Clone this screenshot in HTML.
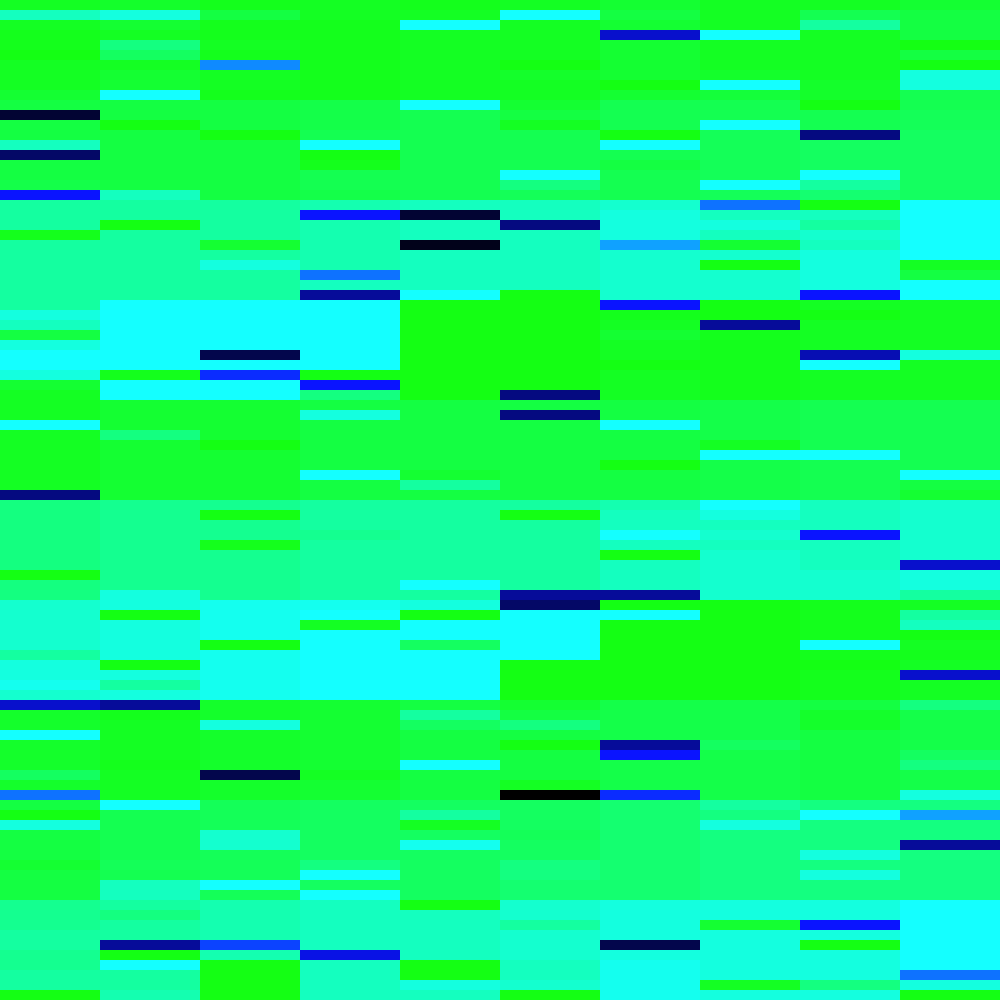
<!DOCTYPE html>
<html><head><meta charset="utf-8"><style>html,body{margin:0;padding:0;background:#fff;}svg{display:block;}</style></head>
<body>
<svg id="chart" width="1000" height="1000" xmlns="http://www.w3.org/2000/svg"></svg>
<script>
const columns = [0,1,2,3,4,5,6,7,8,9];
const values = [
[.1,.15,.05,.1,.05,.1,.2,.1,.1,.2],
[.8,.9,.3,.1,.1,1,.3,.1,.4,.3],
[.1,.2,.05,.05,1,.1,.2,.1,.7,.3],
[.05,.1,.05,.05,.1,.1,1.6,1,.1,.3],
[.05,.6,.1,.05,.1,.1,.2,.1,.1,0],
[0,.5,.05,.05,.1,.1,.2,.1,.1,.3],
[.1,.1,1.25,.05,.1,0,.2,.1,.1,0],
[.1,.2,.1,.05,.1,.15,.2,.15,.1,.9],
[.1,.2,.1,.05,.1,.1,0,1,.15,.9],
[.2,1,.05,.05,.1,.1,.2,.25,.15,.4],
[.3,.3,.3,.35,1,.2,.4,.4,0,.4],
[1.9,.3,.3,.35,.4,.3,.4,.4,.4,.45],
[.3,0,.3,.35,.4,.1,.4,1,.4,.45],
[.3,.3,0,.4,.4,.4,0,.45,1.75,.5],
[.8,.3,.3,1,.4,.4,1,.45,.5,.5],
[1.8,.3,.3,0,.4,.4,.4,.45,.5,.5],
[.3,.3,.3,.05,.4,.4,.3,.45,.5,.5],
[.3,.3,.3,.4,.4,1,.4,.45,1,.5],
[.35,.3,.3,.4,.4,.6,.4,1,.7,.5],
[1.5,.8,.3,.35,.4,.45,.4,.45,.55,.5],
[.7,.7,.7,.75,.8,.8,.85,1.3,0,1],
[.7,.7,.7,1.5,1.9,.8,.9,.8,.8,1],
[.7,0,.7,.75,.8,1.75,.9,.9,.7,1],
[0.05,.7,.7,.75,.8,.8,.9,.8,.85,1],
[.7,.7,.2,.75,1.95,.8,1.2,.2,.8,1],
[.7,.7,.7,.75,.8,.8,.85,.85,.9,1],
[.7,.7,.9,.75,.8,.8,.85,0,.9,.1],
[.7,.7,.7,1.3,.8,.8,.85,.85,.9,.3],
[.7,.7,.7,.8,.8,.8,.85,.85,.9,1],
[.7,.7,.7,1.7,1,0,.85,.85,1.5,1],
[.7,1,1,1,0,0,1.5,0,.1,.1],
[.9,1,1,1,0,0,.05,0,0,.1],
[.8,1,1,1,0,0,.1,1.7,.1,.1],
[.3,1,1,1,0,0,.2,.05,.1,.1],
[.9,1,1,1,0,0,.1,.05,.1,.1],
[1,1,1.85,1,0,0,.1,.05,1.65,.9],
[1,1,1,1,0,0,0,.05,1,.1],
[.9,.05,1.45,0,0,0,.1,.05,.1,.1],
[.2,1,1,1.5,0,0,.1,.05,.1,.1],
[.1,1,1,.6,0,1.75,.1,.05,.1,.1],
[.1,.2,.2,.3,.3,.3,.3,.35,.4,.4],
[.1,.2,.2,.9,.3,1.75,.3,.35,.4,.4],
[1,.2,.2,.3,.3,.3,1,.35,.4,.4],
[.1,.6,.2,.3,.3,.3,.3,.35,.4,.4],
[.1,.2,0,.3,.3,.3,.3,.1,.4,.4],
[.1,.2,.2,.3,.3,.3,.3,1,1,.4],
[.1,.2,.2,.3,.3,.3,0,.35,.4,.4],
[.1,.2,.2,1,.2,.3,.3,.35,.4,1],
[.1,.2,.2,.3,.7,.3,.3,.35,.4,.3],
[1.75,.2,.2,.3,.3,.3,.3,.35,.4,.2],
[.6,.65,.65,.7,.7,.7,.75,1,.8,.85],
[.6,.65,0,.7,.7,0,.8,.9,.8,.85],
[.6,.65,.65,.7,.7,.7,.8,.8,.8,.85],
[.6,.65,.65,.65,.7,.7,1,.85,1.5,.85],
[.6,.65,.05,.7,.7,.7,.8,.8,.8,.85],
[.6,.65,.65,.7,.7,.7,0,.85,.8,.85],
[.6,.65,.65,.7,.7,.7,.8,.85,.8,1.6],
[0,.65,.65,.7,.7,.7,.8,.85,.85,.9],
[.6,.65,.65,.7,1,.7,.8,.85,.85,.9],
[.6,.9,.65,.7,.7,1.7,1.7,.85,.85,.7],
[.85,.9,.95,.95,.9,1.8,0,0,.05,.1],
[.85,0,.95,1,0,1,1,0,.05,.7],
[.85,.9,.95,.1,1,1,0,0,.05,.8],
[.85,.9,.95,1,1,1,0,0,.05,0],
[.85,.9,0,1,.5,1,0,0,1,.1],
[.7,.9,.95,1,1,1,0,0,.05,.05],
[.9,0,.95,1,1,0,0,0,0,.1],
[.9,.9,.95,1,1,0,0,0,.05,1.6],
[.95,.7,.95,1,1,0,0,0,.05,.1],
[.85,.9,.95,1,1,0,0,0,.05,.1],
[1.6,1.7,.15,.2,.3,.2,.35,.35,.3,.6],
[.15,.05,.15,.2,.7,.3,.35,.35,.15,.35],
[.15,.1,.9,.2,.5,.6,.35,.35,.15,.35],
[1,.1,.15,.2,.3,.3,.35,.35,.3,.35],
[.15,.1,.15,.2,.3,0,1.7,.5,.3,.35],
[.15,.1,.15,.2,.3,.3,1.5,.35,.3,.5],
[.15,.05,.15,.2,1,.3,.35,.35,.3,.6],
[.5,.1,1.85,.1,.3,.3,.35,.35,.3,.35],
[.15,.1,.15,.2,.3,.1,.35,.35,.3,.35],
[1.3,.1,.15,.2,.3,2,1.45,.35,.3,.9],
[.3,1,.45,.5,.5,.5,.55,.7,.6,.6],
[0,.4,.45,.5,.7,.5,.55,.6,1,1.2],
[.9,.4,.45,.5,.1,.5,.55,.9,.6,.6],
[.3,.4,.85,.5,.5,.45,.55,.6,.6,.6],
[.3,.4,.85,.5,.95,.5,.55,.6,.6,1.7],
[.3,.4,.45,.5,.5,.5,.55,.6,.9,.6],
[.2,.45,.45,.6,.5,.6,.55,.6,.6,.6],
[.3,.4,.45,1,.5,.6,.55,.6,.9,.6],
[.3,.8,1,.5,.5,.55,.55,.6,.6,.6],
[.3,.8,.45,1,.5,.55,.55,.6,.6,.6],
[.65,.7,.75,.8,0,.85,.9,.9,.9,1],
[.65,.6,.75,.8,.8,.85,.9,.9,.9,1],
[.65,.7,.75,.8,.8,.7,.9,.2,1.5,1],
[.7,.7,.75,.8,.8,.85,.9,.9,.9,1],
[.7,1.7,1.4,.8,.8,.85,1.85,.9,0,1],
[.65,0,.75,1.55,.8,.85,.9,.9,.9,1],
[.65,1,0,.8,0,.8,.95,.9,.9,1],
[.7,.7,0,.8,0,.8,.95,.9,.9,1.3],
[.7,.7,0,.8,.9,.85,.95,.1,.6,.9],
[0,.75,0,.8,.8,0,.95,.9,.9,0]
];
const stopVals = [0, 0.5, 1, 1.5, 2];
const stopCols = [[20,255,20],[20,255,96],[20,255,255],[10,20,255],[0,0,0]];

function color(v){
  v = Math.max(0, Math.min(2, v));
  for (let i=0;i<stopVals.length-1;i++){
    if (v <= stopVals[i+1]){
      const t = (v - stopVals[i])/(stopVals[i+1]-stopVals[i]);
      const a = stopCols[i], b = stopCols[i+1];
      return 'rgb(' + a.map((c,k)=>Math.round(c+(b[k]-c)*t)).join(',') + ')';
    }
  }
  return 'rgb(0,0,0)';
}
const W = 1000, H = 1000;
const cw = W / columns.length, rh = H / values.length;
function x(c){ return c * cw; }
function y(r){ return r * rh; }
const svg = document.getElementById('chart');
const NS = 'http://www.w3.org/2000/svg';
values.forEach((row, r) => {
  row.forEach((v, c) => {
    const rect = document.createElementNS(NS, 'rect');
    rect.setAttribute('x', x(c));
    rect.setAttribute('y', y(r));
    rect.setAttribute('width', cw);
    rect.setAttribute('height', rh);
    rect.setAttribute('fill', color(v));
    
    
    svg.appendChild(rect);
  });
});
</script>
</body></html>
